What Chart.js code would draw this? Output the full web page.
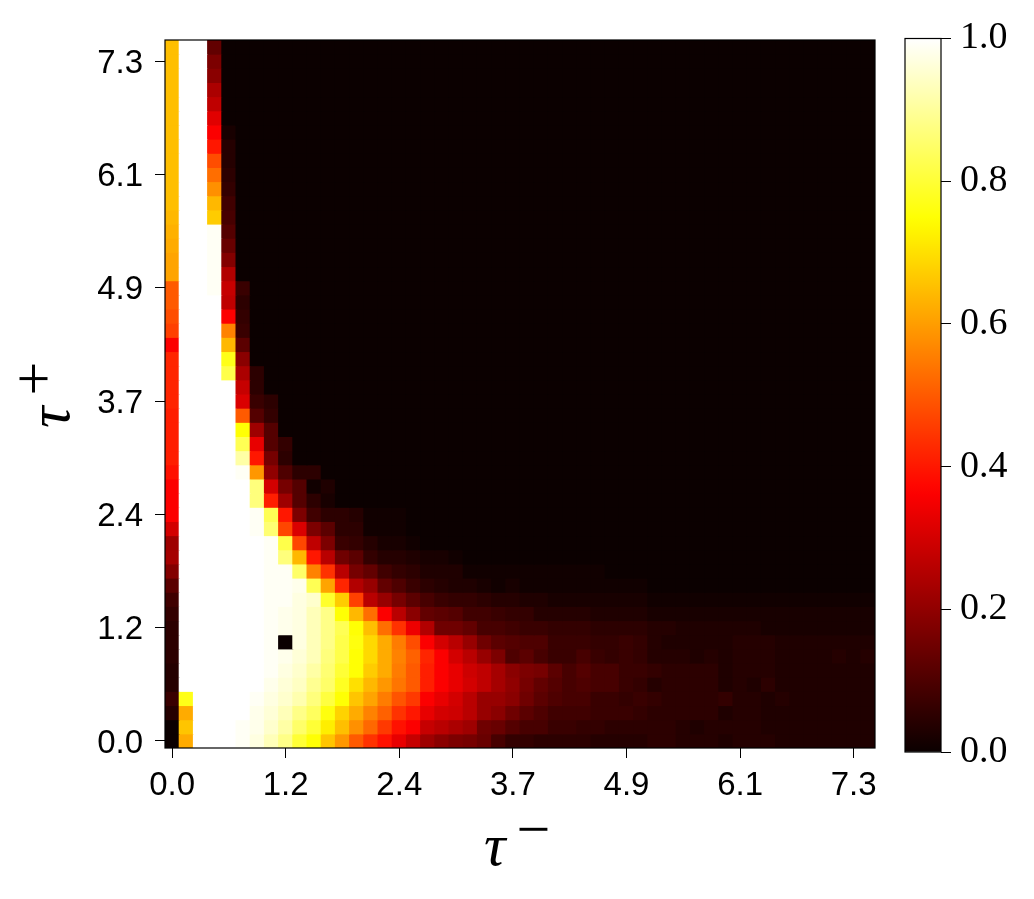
<!DOCTYPE html>
<html>
<head>
<meta charset="utf-8">
<script src="https://cdn.jsdelivr.net/npm/chart.js@4"></script>
<style>
  html, body { margin: 0; padding: 0; background: #fff; }
  #wrap { position: relative; width: 1034px; height: 899px; overflow: hidden; }
  canvas { position: absolute; top: 0; }
  #heatCanvas { left: 0; }
  #barCanvas { left: 880px; }
  .axisTitle { position: absolute; font-family: "Liberation Serif", serif; color: #000; white-space: nowrap; line-height: 1; }
  .axisTitle i { font-size: 60px; }
  .axisTitle span { font-size: 60px; position: relative; top: -16px; margin-left: 11px; }
  #xTitle { left: 484px; top: 815px; }
  #yTitle { left: 0; top: 0; transform-origin: 0 0; transform: translate(19px, 428px) rotate(-90deg); }
</style>
</head>
<body>
<div id="wrap">
  <canvas id="heatCanvas" width="1034" height="899"></canvas>
  <canvas id="barCanvas" width="154" height="899"></canvas>
  <div class="axisTitle" id="xTitle"><i>τ</i><span>−</span></div>
  <div class="axisTitle" id="yTitle"><i>τ</i><span>+</span></div>
</div>
<script>
const tickIndex = [0, 8, 16, 24, 32, 40, 48];
const xTickLabels = ["0.0", "1.2", "2.4", "3.7", "4.9", "6.1", "7.3"];
const yTickLabels = ["0.0", "1.2", "2.4", "3.7", "4.9", "6.1", "7.3"];
const barTicks = [0, 0.2, 0.4, 0.6, 0.8, 1.0];

// percent values, row 0 is the bottom row of the picture
const heat = [
  [0,62,100,100,100,99,97,93,88,80,75,66,59,50,44,39,33,28,22,19,17,16,14,9,6,6,5,5,5,5,4,4,4,4,5,5,4,4,4,3,4,4,4,3,3,3,3,3,3,3],
  [0,66,100,100,100,99,98,95,91,85,80,72,65,58,52,45,39,36,28,26,24,22,15,14,11,9,9,7,7,6,6,5,5,5,5,5,4,3,4,4,4,4,3,3,3,3,3,3,3,3],
  [4,62,100,100,100,100,98,96,93,88,84,76,68,62,56,51,44,40,33,30,29,26,21,19,15,12,10,8,8,8,7,7,7,6,5,5,5,5,5,3,4,4,3,3,3,3,3,3,3,3],
  [7,77,100,100,100,100,99,97,95,92,87,81,75,66,61,55,49,45,36,33,30,26,21,21,19,15,12,10,9,9,7,7,6,7,6,5,5,5,5,6,4,4,3,4,3,3,3,3,3,3],
  [4,100,100,100,100,100,100,98,96,94,89,85,78,70,64,59,54,50,41,36,33,30,27,23,20,16,13,11,9,10,9,9,7,6,4,5,5,5,5,3,4,3,5,3,3,3,3,3,3,3],
  [4,100,100,100,100,100,100,99,97,95,91,86,80,75,67,62,55,50,41,36,33,29,27,23,19,17,16,12,9,11,9,9,7,7,6,5,5,5,5,3,4,4,4,3,3,3,3,3,3,3],
  [5,100,100,100,100,100,100,99,98,96,93,87,82,75,69,62,56,51,42,36,30,26,21,17,10,12,9,7,7,9,7,6,7,6,4,4,4,3,4,3,4,4,4,3,3,3,3,4,3,4],
  [5,100,100,100,100,100,100,99,0,97,93,88,82,76,69,62,55,48,36,30,26,21,15,12,11,10,10,7,7,7,6,6,7,6,4,3,3,3,3,3,4,4,4,3,3,3,3,3,3,3],
  [5,100,100,100,100,100,100,99,98,97,93,88,83,75,65,53,44,34,25,15,15,13,9,9,8,7,7,6,6,6,5,5,5,5,4,4,3,3,3,3,3,3,2,2,2,2,2,2,2,2],
  [6,100,100,100,100,100,100,99,98,97,93,88,75,64,53,36,26,19,13,12,11,8,8,7,6,6,4,4,4,4,3,3,3,3,2,2,2,2,2,2,2,2,2,2,2,2,2,2,2,2],
  [8,100,100,100,100,100,100,99,99,97,95,79,67,46,26,21,16,12,9,7,6,6,5,4,4,3,3,2,2,2,2,2,2,2,1,1,1,1,1,1,1,1,1,1,1,1,1,1,1,1],
  [12,100,100,100,100,100,100,99,99,98,83,61,42,25,21,13,10,7,5,4,3,3,2,1,2,1,1,1,1,1,1,1,1,1,0,0,0,0,0,0,0,0,0,0,0,0,0,0,0,0],
  [18,100,100,100,100,100,100,99,99,85,56,44,26,16,13,8,6,5,3,3,3,1,1,1,1,1,1,1,1,1,1,0,0,0,0,0,0,0,0,0,0,0,0,0,0,0,0,0,0,0],
  [23,100,100,100,100,100,100,99,87,64,40,26,15,12,6,4,4,3,2,2,1,0,0,0,0,0,0,0,0,0,0,0,0,0,0,0,0,0,0,0,0,0,0,0,0,0,0,0,0,0],
  [22,100,100,100,100,100,100,99,82,47,27,17,7,6,4,2,2,1,0,0,0,0,0,0,0,0,0,0,0,0,0,0,0,0,0,0,0,0,0,0,0,0,0,0,0,0,0,0,0,0],
  [30,100,100,100,100,100,99,86,47,31,17,12,5,5,1,1,1,0,0,0,0,0,0,0,0,0,0,0,0,0,0,0,0,0,0,0,0,0,0,0,0,0,0,0,0,0,0,0,0,0],
  [36,100,100,100,100,100,99,83,40,17,8,5,5,4,1,1,1,0,0,0,0,0,0,0,0,0,0,0,0,0,0,0,0,0,0,0,0,0,0,0,0,0,0,0,0,0,0,0,0,0],
  [36,100,100,100,100,100,87,41,22,11,5,2,0,0,0,0,0,0,0,0,0,0,0,0,0,0,0,0,0,0,0,0,0,0,0,0,0,0,0,0,0,0,0,0,0,0,0,0,0,0],
  [36,100,100,100,100,100,87,30,16,11,1,3,0,0,0,0,0,0,0,0,0,0,0,0,0,0,0,0,0,0,0,0,0,0,0,0,0,0,0,0,0,0,0,0,0,0,0,0,0,0],
  [39,100,100,100,100,99,59,20,10,5,5,0,0,0,0,0,0,0,0,0,0,0,0,0,0,0,0,0,0,0,0,0,0,0,0,0,0,0,0,0,0,0,0,0,0,0,0,0,0,0],
  [41,100,100,100,100,91,40,16,5,0,0,0,0,0,0,0,0,0,0,0,0,0,0,0,0,0,0,0,0,0,0,0,0,0,0,0,0,0,0,0,0,0,0,0,0,0,0,0,0,0],
  [41,100,100,100,100,83,33,11,6,0,0,0,0,0,0,0,0,0,0,0,0,0,0,0,0,0,0,0,0,0,0,0,0,0,0,0,0,0,0,0,0,0,0,0,0,0,0,0,0,0],
  [41,100,100,100,100,75,22,11,0,0,0,0,0,0,0,0,0,0,0,0,0,0,0,0,0,0,0,0,0,0,0,0,0,0,0,0,0,0,0,0,0,0,0,0,0,0,0,0,0,0],
  [41,100,100,100,100,50,11,6,0,0,0,0,0,0,0,0,0,0,0,0,0,0,0,0,0,0,0,0,0,0,0,0,0,0,0,0,0,0,0,0,0,0,0,0,0,0,0,0,0,0],
  [42,100,100,100,100,31,7,5,0,0,0,0,0,0,0,0,0,0,0,0,0,0,0,0,0,0,0,0,0,0,0,0,0,0,0,0,0,0,0,0,0,0,0,0,0,0,0,0,0,0],
  [42,100,100,100,100,28,5,0,0,0,0,0,0,0,0,0,0,0,0,0,0,0,0,0,0,0,0,0,0,0,0,0,0,0,0,0,0,0,0,0,0,0,0,0,0,0,0,0,0,0],
  [42,100,100,100,82,24,5,0,0,0,0,0,0,0,0,0,0,0,0,0,0,0,0,0,0,0,0,0,0,0,0,0,0,0,0,0,0,0,0,0,0,0,0,0,0,0,0,0,0,0],
  [42,100,100,100,77,19,0,0,0,0,0,0,0,0,0,0,0,0,0,0,0,0,0,0,0,0,0,0,0,0,0,0,0,0,0,0,0,0,0,0,0,0,0,0,0,0,0,0,0,0],
  [36,100,100,100,64,12,0,0,0,0,0,0,0,0,0,0,0,0,0,0,0,0,0,0,0,0,0,0,0,0,0,0,0,0,0,0,0,0,0,0,0,0,0,0,0,0,0,0,0,0],
  [46,100,100,100,56,7,0,0,0,0,0,0,0,0,0,0,0,0,0,0,0,0,0,0,0,0,0,0,0,0,0,0,0,0,0,0,0,0,0,0,0,0,0,0,0,0,0,0,0,0],
  [48,100,100,100,36,6,0,0,0,0,0,0,0,0,0,0,0,0,0,0,0,0,0,0,0,0,0,0,0,0,0,0,0,0,0,0,0,0,0,0,0,0,0,0,0,0,0,0,0,0],
  [50,100,100,100,27,5,0,0,0,0,0,0,0,0,0,0,0,0,0,0,0,0,0,0,0,0,0,0,0,0,0,0,0,0,0,0,0,0,0,0,0,0,0,0,0,0,0,0,0,0],
  [50,100,100,99,28,7,0,0,0,0,0,0,0,0,0,0,0,0,0,0,0,0,0,0,0,0,0,0,0,0,0,0,0,0,0,0,0,0,0,0,0,0,0,0,0,0,0,0,0,0],
  [61,100,100,99,25,0,0,0,0,0,0,0,0,0,0,0,0,0,0,0,0,0,0,0,0,0,0,0,0,0,0,0,0,0,0,0,0,0,0,0,0,0,0,0,0,0,0,0,0,0],
  [61,100,100,99,18,0,0,0,0,0,0,0,0,0,0,0,0,0,0,0,0,0,0,0,0,0,0,0,0,0,0,0,0,0,0,0,0,0,0,0,0,0,0,0,0,0,0,0,0,0],
  [62,100,100,99,14,0,0,0,0,0,0,0,0,0,0,0,0,0,0,0,0,0,0,0,0,0,0,0,0,0,0,0,0,0,0,0,0,0,0,0,0,0,0,0,0,0,0,0,0,0],
  [63,100,100,99,11,0,0,0,0,0,0,0,0,0,0,0,0,0,0,0,0,0,0,0,0,0,0,0,0,0,0,0,0,0,0,0,0,0,0,0,0,0,0,0,0,0,0,0,0,0],
  [64,100,100,67,9,0,0,0,0,0,0,0,0,0,0,0,0,0,0,0,0,0,0,0,0,0,0,0,0,0,0,0,0,0,0,0,0,0,0,0,0,0,0,0,0,0,0,0,0,0],
  [65,100,100,64,8,0,0,0,0,0,0,0,0,0,0,0,0,0,0,0,0,0,0,0,0,0,0,0,0,0,0,0,0,0,0,0,0,0,0,0,0,0,0,0,0,0,0,0,0,0],
  [65,100,100,58,6,0,0,0,0,0,0,0,0,0,0,0,0,0,0,0,0,0,0,0,0,0,0,0,0,0,0,0,0,0,0,0,0,0,0,0,0,0,0,0,0,0,0,0,0,0],
  [65,100,100,53,5,0,0,0,0,0,0,0,0,0,0,0,0,0,0,0,0,0,0,0,0,0,0,0,0,0,0,0,0,0,0,0,0,0,0,0,0,0,0,0,0,0,0,0,0,0],
  [65,100,100,48,4,0,0,0,0,0,0,0,0,0,0,0,0,0,0,0,0,0,0,0,0,0,0,0,0,0,0,0,0,0,0,0,0,0,0,0,0,0,0,0,0,0,0,0,0,0],
  [65,100,100,40,4,0,0,0,0,0,0,0,0,0,0,0,0,0,0,0,0,0,0,0,0,0,0,0,0,0,0,0,0,0,0,0,0,0,0,0,0,0,0,0,0,0,0,0,0,0],
  [65,100,100,36,2,0,0,0,0,0,0,0,0,0,0,0,0,0,0,0,0,0,0,0,0,0,0,0,0,0,0,0,0,0,0,0,0,0,0,0,0,0,0,0,0,0,0,0,0,0],
  [65,100,100,32,0,0,0,0,0,0,0,0,0,0,0,0,0,0,0,0,0,0,0,0,0,0,0,0,0,0,0,0,0,0,0,0,0,0,0,0,0,0,0,0,0,0,0,0,0,0],
  [65,100,100,27,0,0,0,0,0,0,0,0,0,0,0,0,0,0,0,0,0,0,0,0,0,0,0,0,0,0,0,0,0,0,0,0,0,0,0,0,0,0,0,0,0,0,0,0,0,0],
  [65,100,100,24,0,0,0,0,0,0,0,0,0,0,0,0,0,0,0,0,0,0,0,0,0,0,0,0,0,0,0,0,0,0,0,0,0,0,0,0,0,0,0,0,0,0,0,0,0,0],
  [65,100,100,19,0,0,0,0,0,0,0,0,0,0,0,0,0,0,0,0,0,0,0,0,0,0,0,0,0,0,0,0,0,0,0,0,0,0,0,0,0,0,0,0,0,0,0,0,0,0],
  [65,100,100,17,0,0,0,0,0,0,0,0,0,0,0,0,0,0,0,0,0,0,0,0,0,0,0,0,0,0,0,0,0,0,0,0,0,0,0,0,0,0,0,0,0,0,0,0,0,0],
  [65,100,100,13,0,0,0,0,0,0,0,0,0,0,0,0,0,0,0,0,0,0,0,0,0,0,0,0,0,0,0,0,0,0,0,0,0,0,0,0,0,0,0,0,0,0,0,0,0,0]
];

// matplotlib "hot" colormap
function hot(v) {
  const r = Math.min(1, 0.0416 + (1 - 0.0416) * v / 0.365079);
  const g = Math.max(0, Math.min(1, (v - 0.365079) / (0.746032 - 0.365079)));
  const b = Math.max(0, (v - 0.746032) / (1 - 0.746032));
  return `rgb(${Math.round(r * 255)},${Math.round(g * 255)},${Math.round(b * 255)})`;
}

const cells = [];
const cellColors = [];
heat.forEach((row, y) => {
  row.forEach((pct, x) => {
    cells.push({ x, y });
    cellColors.push(hot(pct / 100));
  });
});

// black box round the plot area
const framePlugin = {
  id: "frame",
  afterDraw(chart) {
    const { ctx, chartArea: a } = chart;
    ctx.save();
    ctx.strokeStyle = "#000";
    ctx.lineWidth = 1.2;
    ctx.strokeRect(a.left, a.top, a.right - a.left, a.bottom - a.top);
    ctx.restore();
  }
};

new Chart(document.getElementById("heatCanvas"), {
  type: "scatter",
  data: {
    datasets: [{
      data: cells,
      pointStyle: "rect",
      // a bit over half a cell, neighbours overlap so no seams show
      pointRadius: 10.75,
      pointBorderWidth: 0,
      pointBackgroundColor: cellColors
    }]
  },
  options: {
    responsive: false,
    animation: false,
    devicePixelRatio: 1,
    events: [],
    layout: { padding: { left: 0, top: 40, right: 159, bottom: 0 } },
    plugins: { legend: { display: false }, tooltip: { enabled: false } },
    scales: {
      x: {
        type: "linear",
        min: -0.5,
        max: 49.5,
        afterBuildTicks: s => { s.ticks = tickIndex.map(value => ({ value })); },
        afterFit: s => { s.height = 899 - 748; },
        border: { display: false },
        grid: { drawOnChartArea: false, tickLength: 10, tickColor: "#000", tickWidth: 1 },
        ticks: {
          autoSkip: false,
          maxRotation: 0,
          padding: 8,
          color: "#000",
          font: { family: "'Liberation Sans'", size: 33 },
          callback: v => xTickLabels[tickIndex.indexOf(v)]
        }
      },
      y: {
        type: "linear",
        min: -0.5,
        max: 49.5,
        afterBuildTicks: s => { s.ticks = tickIndex.map(value => ({ value })); },
        afterFit: s => { s.width = 165; },
        border: { display: false },
        grid: { drawOnChartArea: false, tickLength: 10, tickColor: "#000", tickWidth: 1 },
        ticks: {
          autoSkip: false,
          padding: 12,
          color: "#000",
          // empty first line + small line height moves the label a few px down
          font: { family: "'Liberation Sans'", size: 33, lineHeight: "5px" },
          callback: v => ["", yTickLabels[tickIndex.indexOf(v)]]
        }
      }
    }
  },
  plugins: [framePlugin]
});

new Chart(document.getElementById("barCanvas"), {
  type: "bar",
  data: {
    labels: [""],
    datasets: [{
      data: [1],
      barPercentage: 1,
      categoryPercentage: 1,
      backgroundColor: c => {
        const a = c.chart.chartArea;
        if (!a) return "#000";
        const grad = c.chart.ctx.createLinearGradient(0, a.bottom, 0, a.top);
        for (let i = 0; i <= 64; i++) grad.addColorStop(i / 64, hot(i / 64));
        return grad;
      }
    }]
  },
  options: {
    responsive: false,
    animation: false,
    devicePixelRatio: 1,
    events: [],
    layout: { padding: { left: 25, top: 38.5, right: 0, bottom: 147 } },
    plugins: { legend: { display: false }, tooltip: { enabled: false } },
    scales: {
      x: { display: false },
      y: {
        position: "right",
        min: 0,
        max: 1,
        afterBuildTicks: s => { s.ticks = barTicks.map(value => ({ value })); },
        afterFit: s => { s.width = 93; },
        border: { display: false },
        grid: { drawOnChartArea: false, tickLength: 10, tickColor: "#000", tickWidth: 1 },
        ticks: {
          padding: 9,
          color: "#000",
          font: { family: "'Liberation Serif'", size: 38 },
          callback: v => v.toFixed(1)
        }
      }
    }
  },
  plugins: [framePlugin]
});
</script>
</body>
</html>
